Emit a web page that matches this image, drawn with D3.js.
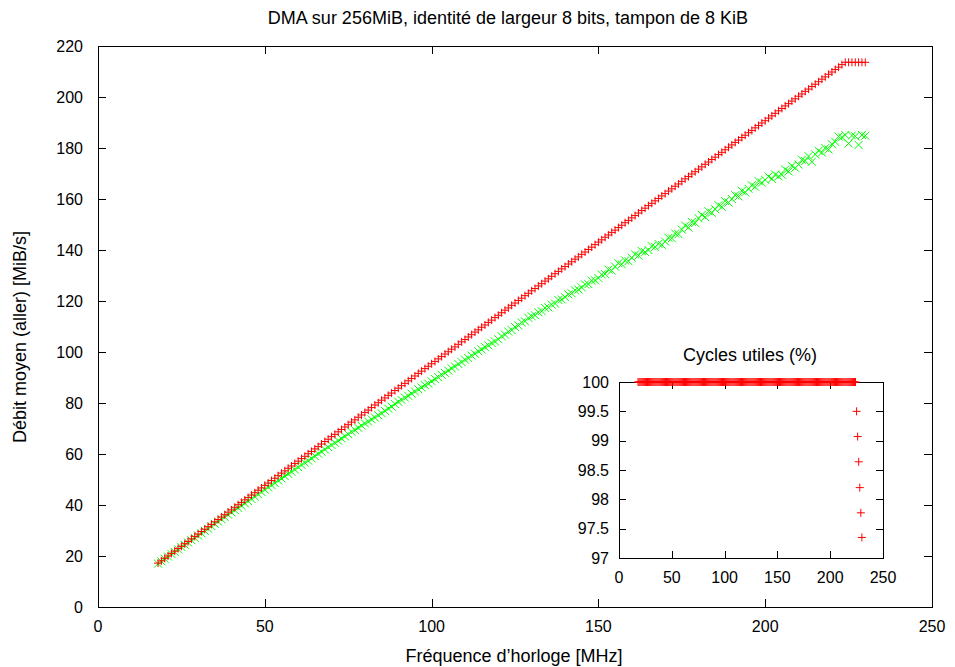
<!DOCTYPE html>
<html>
<head>
<meta charset="utf-8">
<script src="https://cdn.jsdelivr.net/npm/d3@7"></script>
<style>
  html, body { margin: 0; padding: 0; background: #fff; }
  svg { display: block; }
  text { font-family: "Liberation Sans", Arial, sans-serif; fill: #000; }
</style>
</head>
<body>
<svg id="chart" width="955" height="667"></svg>
<script>
// clock frequency (MHz), one sample per MHz
const freqMHz = [
  18, 19, 20, 21, 22, 23, 24, 25, 26, 27, 28, 29, 30, 31, 32, 33, 34, 35, 36, 37, 38, 39,
  40, 41, 42, 43, 44, 45, 46, 47, 48, 49, 50, 51, 52, 53, 54, 55, 56, 57, 58, 59,
  60, 61, 62, 63, 64, 65, 66, 67, 68, 69, 70, 71, 72, 73, 74, 75, 76, 77, 78, 79,
  80, 81, 82, 83, 84, 85, 86, 87, 88, 89, 90, 91, 92, 93, 94, 95, 96, 97, 98, 99,
  100, 101, 102, 103, 104, 105, 106, 107, 108, 109, 110, 111, 112, 113, 114, 115, 116, 117, 118, 119,
  120, 121, 122, 123, 124, 125, 126, 127, 128, 129, 130, 131, 132, 133, 134, 135, 136, 137, 138, 139,
  140, 141, 142, 143, 144, 145, 146, 147, 148, 149, 150, 151, 152, 153, 154, 155, 156, 157, 158, 159,
  160, 161, 162, 163, 164, 165, 166, 167, 168, 169, 170, 171, 172, 173, 174, 175, 176, 177, 178, 179,
  180, 181, 182, 183, 184, 185, 186, 187, 188, 189, 190, 191, 192, 193, 194, 195, 196, 197, 198, 199,
  200, 201, 202, 203, 204, 205, 206, 207, 208, 209, 210, 211, 212, 213, 214, 215, 216, 217, 218, 219,
  220, 221, 222, 223, 224, 225, 226, 227, 228, 229, 230
];

// red "+" series, average throughput (MiB/s)
const debitRouge = [
  17.2, 18.1, 19.1, 20.0, 21.0, 21.9, 22.9, 23.8, 24.8, 25.7, 26.7, 27.7, 28.6, 29.6, 30.5, 31.5, 32.4, 33.4, 34.3, 35.3, 36.2, 37.2,
  38.1, 39.1, 40.1, 41.0, 42.0, 42.9, 43.9, 44.8, 45.8, 46.7, 47.7, 48.6, 49.6, 50.5, 51.5, 52.5, 53.4, 54.4, 55.3, 56.3,
  57.2, 58.2, 59.1, 60.1, 61.0, 62.0, 62.9, 63.9, 64.9, 65.8, 66.8, 67.7, 68.7, 69.6, 70.6, 71.5, 72.5, 73.4, 74.4, 75.3,
  76.3, 77.2, 78.2, 79.2, 80.1, 81.1, 82.0, 83.0, 83.9, 84.9, 85.8, 86.8, 87.7, 88.7, 89.6, 90.6, 91.6, 92.5, 93.5, 94.4,
  95.4, 96.3, 97.3, 98.2, 99.2, 100.1, 101.1, 102.0, 103.0, 104.0, 104.9, 105.9, 106.8, 107.8, 108.7, 109.7, 110.6, 111.6, 112.5, 113.5,
  114.4, 115.4, 116.4, 117.3, 118.3, 119.2, 120.2, 121.1, 122.1, 123.0, 124.0, 124.9, 125.9, 126.8, 127.8, 128.7, 129.7, 130.7, 131.6, 132.6,
  133.5, 134.5, 135.4, 136.4, 137.3, 138.3, 139.2, 140.2, 141.1, 142.1, 143.1, 144.0, 145.0, 145.9, 146.9, 147.8, 148.8, 149.7, 150.7, 151.6,
  152.6, 153.5, 154.5, 155.5, 156.4, 157.4, 158.3, 159.3, 160.2, 161.2, 162.1, 163.1, 164.0, 165.0, 165.9, 166.9, 167.9, 168.8, 169.8, 170.7,
  171.7, 172.6, 173.6, 174.5, 175.5, 176.4, 177.4, 178.3, 179.3, 180.3, 181.2, 182.2, 183.1, 184.1, 185.0, 186.0, 186.9, 187.9, 188.8, 189.8,
  190.7, 191.7, 192.6, 193.6, 194.6, 195.5, 196.5, 197.4, 198.4, 199.3, 200.3, 201.2, 202.2, 203.1, 204.1, 205.0, 206.0, 207.0, 207.9, 208.9,
  209.8, 210.8, 211.7, 212.7, 213.6, 213.6, 213.6, 213.6, 213.6, 213.6, 213.6
];

// green "x" series, average throughput (MiB/s)
const debitVert = [
  17.0, 17.9, 18.9, 19.8, 20.8, 21.6, 22.6, 23.5, 24.4, 25.3, 26.2, 27.1, 28.0, 28.9, 29.9, 30.7, 31.7, 32.6, 33.5, 34.4, 35.3, 36.2,
  37.1, 38.0, 38.9, 39.7, 40.7, 41.5, 42.4, 43.3, 44.2, 45.1, 46.0, 46.9, 47.8, 48.6, 49.6, 50.4, 51.3, 52.2, 53.0, 53.9,
  54.8, 55.7, 56.6, 57.4, 58.3, 59.2, 60.1, 60.9, 61.8, 62.7, 63.5, 64.4, 65.2, 66.1, 66.9, 67.8, 68.7, 69.4, 70.3, 71.1,
  72.0, 72.7, 73.6, 74.3, 75.2, 76.0, 76.9, 77.8, 78.6, 79.6, 80.5, 81.2, 82.1, 82.8, 83.7, 84.5, 85.4, 86.1, 87.0, 87.6,
  88.5, 89.4, 90.1, 91.1, 91.8, 92.7, 93.6, 94.3, 95.3, 96.0, 97.0, 97.6, 98.6, 99.3, 100.3, 101.0, 101.9, 102.6, 103.5, 104.1,
  105.0, 106.2, 106.8, 108.0, 108.6, 109.8, 110.4, 111.6, 112.0, 113.4, 114.0, 114.4, 115.6, 116.0, 117.3, 117.5, 118.6, 119.0, 120.4, 120.6,
  121.5, 122.6, 123.0, 124.2, 124.5, 125.3, 126.5, 126.6, 128.0, 128.1, 129.0, 130.4, 130.6, 132.3, 131.9, 133.5, 134.8, 134.4, 135.9, 135.6,
  137.0, 138.3, 137.8, 139.6, 139.2, 140.0, 141.5, 141.2, 142.4, 142.0, 143.3, 144.8, 144.6, 146.5, 146.2, 148.0, 149.6, 148.8, 151.0, 150.6,
  152.5, 153.8, 152.9, 155.2, 154.6, 156.0, 157.6, 156.9, 159.2, 158.6, 160.0, 161.5, 161.0, 163.2, 162.6, 164.0, 165.4, 164.8, 167.0, 166.4,
  167.5, 168.8, 167.9, 169.6, 168.9, 169.5, 171.6, 170.8, 173.0, 172.2, 173.5, 175.4, 174.9, 176.8, 174.6, 177.5, 178.9, 178.2, 180.0, 179.4,
  181.5, 182.4, 184.5, 184.2, 185.1, 181.8, 184.9, 184.6, 181.2, 185.1, 184.8
];

// inset: useful cycles (%)
const cyclesUtiles = [
  100, 100, 100, 100, 100, 100, 100, 100, 100, 100, 100, 100, 100, 100, 100, 100, 100, 100, 100, 100, 100, 100,
  100, 100, 100, 100, 100, 100, 100, 100, 100, 100, 100, 100, 100, 100, 100, 100, 100, 100, 100, 100,
  100, 100, 100, 100, 100, 100, 100, 100, 100, 100, 100, 100, 100, 100, 100, 100, 100, 100, 100, 100,
  100, 100, 100, 100, 100, 100, 100, 100, 100, 100, 100, 100, 100, 100, 100, 100, 100, 100, 100, 100,
  100, 100, 100, 100, 100, 100, 100, 100, 100, 100, 100, 100, 100, 100, 100, 100, 100, 100, 100, 100,
  100, 100, 100, 100, 100, 100, 100, 100, 100, 100, 100, 100, 100, 100, 100, 100, 100, 100, 100, 100,
  100, 100, 100, 100, 100, 100, 100, 100, 100, 100, 100, 100, 100, 100, 100, 100, 100, 100, 100, 100,
  100, 100, 100, 100, 100, 100, 100, 100, 100, 100, 100, 100, 100, 100, 100, 100, 100, 100, 100, 100,
  100, 100, 100, 100, 100, 100, 100, 100, 100, 100, 100, 100, 100, 100, 100, 100, 100, 100, 100, 100,
  100, 100, 100, 100, 100, 100, 100, 100, 100, 100, 100, 100, 100, 100, 100, 100, 100, 100, 100, 100,
  100, 100, 100, 100, 100, 99.5, 99.07, 98.64, 98.2, 97.77, 97.35
];

const mainXTicks = [0, 50, 100, 150, 200, 250];
const mainYTicks = [0, 20, 40, 60, 80, 100, 120, 140, 160, 180, 200, 220];
const insetXTicks = [0, 50, 100, 150, 200, 250];
const insetYTicks = [97, 97.5, 98, 98.5, 99, 99.5, 100];

const svg = d3.select("#chart");
const FONT = 16;      // tick labels
const LABEL = 18;     // titles and axis labels

function frame(g, x, y, xTicks, yTicks, tick) {
  const [x0, x1] = x.range();
  const [y0, y1] = y.range();
  g.append("rect")
    .attr("x", x0 + 0.5).attr("y", y1 + 0.5)
    .attr("width", x1 - x0).attr("height", y0 - y1)
    .attr("fill", "none").attr("stroke", "#000").attr("stroke-width", 1);
  const t = g.append("g").attr("stroke", "#000").attr("stroke-width", 1);
  xTicks.forEach((v) => {
    const px = Math.round(x(v)) + 0.5;
    t.append("line").attr("x1", px).attr("x2", px).attr("y1", y0).attr("y2", y0 - tick);
    t.append("line").attr("x1", px).attr("x2", px).attr("y1", y1).attr("y2", y1 + tick);
  });
  yTicks.forEach((v) => {
    const py = Math.round(y(v)) + 0.5;
    t.append("line").attr("x1", x0).attr("x2", x0 + tick).attr("y1", py).attr("y2", py);
    t.append("line").attr("x1", x1).attr("x2", x1 - tick).attr("y1", py).attr("y2", py);
  });
}

const plusPath = (cx, cy, r) => `M${cx - r},${cy}h${2 * r}M${cx},${cy - r}v${2 * r}`;
const crossPath = (cx, cy, r) => `M${cx - r},${cy - r}l${2 * r},${2 * r}M${cx - r},${cy + r}l${2 * r},${-2 * r}`;

// ---- main plot
const x = d3.scaleLinear().domain([0, 250]).range([98, 932]);
const y = d3.scaleLinear().domain([0, 220]).range([607, 46]);

const main = svg.append("g");
frame(main, x, y, mainXTicks, mainYTicks, 8);

main.append("g").selectAll("text").data(mainYTicks).enter().append("text")
  .attr("x", 83).attr("y", (d) => y(d)).attr("dy", "0.35em")
  .attr("text-anchor", "end").attr("font-size", FONT).text((d) => d);

main.append("g").selectAll("text").data(mainXTicks).enter().append("text")
  .attr("x", (d) => x(d)).attr("y", 632)
  .attr("text-anchor", "middle").attr("font-size", FONT).text((d) => d);

svg.append("text").attr("x", 508).attr("y", 24).attr("text-anchor", "middle")
  .attr("font-size", LABEL).text("DMA sur 256MiB, identité de largeur 8 bits, tampon de 8 KiB");

svg.append("text").attr("x", 514).attr("y", 662).attr("text-anchor", "middle")
  .attr("font-size", LABEL).text("Fréquence d\u2019horloge [MHz]");

svg.append("text").attr("transform", "translate(26,337) rotate(-90)").attr("text-anchor", "middle")
  .attr("font-size", LABEL).text("Débit moyen (aller) [MiB/s]");

const pts = freqMHz.map((f, i) => ({ f, red: debitRouge[i], green: debitVert[i], cyc: cyclesUtiles[i] }));

main.append("path")
  .attr("d", pts.map((p) => crossPath(x(p.f), y(p.green), 4)).join(""))
  .attr("fill", "none").attr("stroke", "#00ff00").attr("stroke-width", 1);

main.append("path")
  .attr("d", pts.map((p) => plusPath(x(p.f), y(p.red), 4)).join(""))
  .attr("fill", "none").attr("stroke", "#ff0000").attr("stroke-width", 1);

// ---- inset
const ix = d3.scaleLinear().domain([0, 250]).range([619, 883]);
const iy = d3.scaleLinear().domain([97, 100]).range([558, 382]);
const inset = svg.append("g");
frame(inset, ix, iy, insetXTicks, insetYTicks, 7);

inset.append("g").selectAll("text").data(insetYTicks).enter().append("text")
  .attr("x", 609).attr("y", (d) => iy(d)).attr("dy", "0.35em")
  .attr("text-anchor", "end").attr("font-size", FONT).text((d) => d);

inset.append("g").selectAll("text").data(insetXTicks).enter().append("text")
  .attr("x", (d) => ix(d)).attr("y", 583)
  .attr("text-anchor", "middle").attr("font-size", FONT).text((d) => d);

inset.append("text").attr("x", 750).attr("y", 361).attr("text-anchor", "middle")
  .attr("font-size", LABEL).text("Cycles utiles (%)");

inset.append("path")
  .attr("d", pts.map((p) => plusPath(ix(p.f), iy(p.cyc), 4)).join(""))
  .attr("fill", "none").attr("stroke", "#ff0000").attr("stroke-width", 1);
</script>
</body>
</html>
